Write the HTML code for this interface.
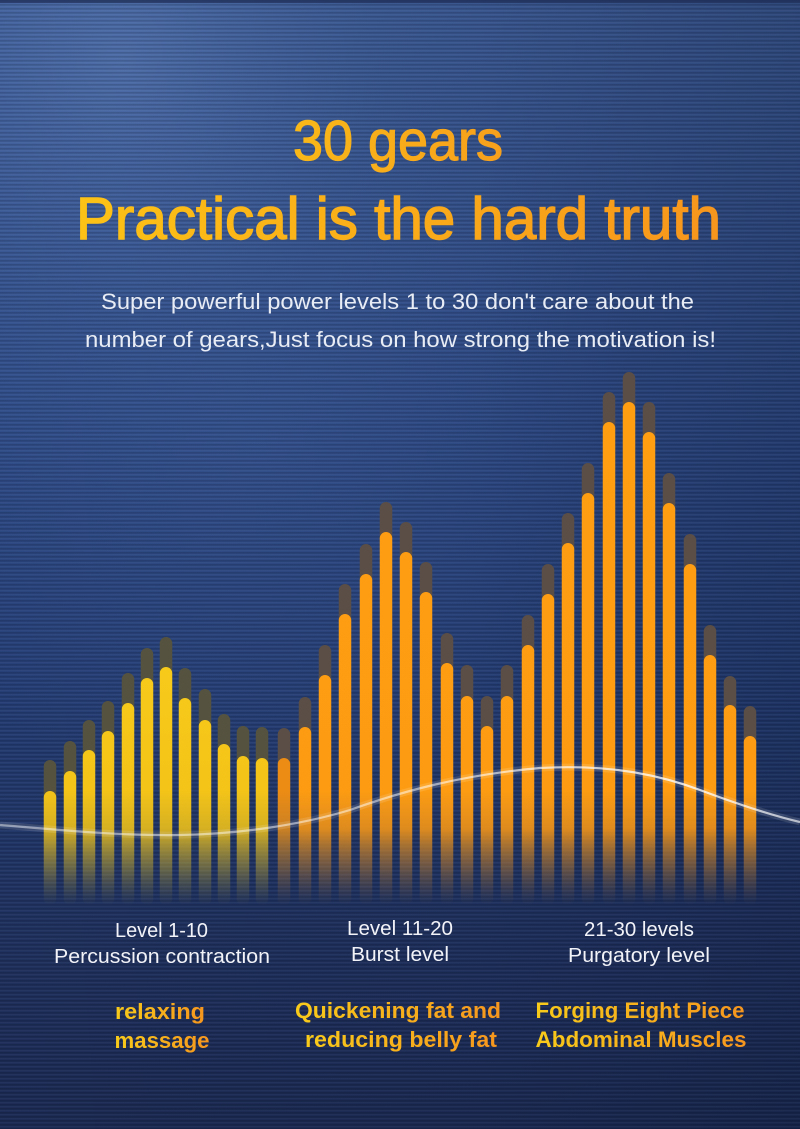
<!DOCTYPE html>
<html>
<head>
<meta charset="utf-8">
<style>
html,body{margin:0;padding:0;background:#1c2c56;}
body{width:800px;height:1129px;overflow:hidden;}
svg{display:block;}
text{font-family:"Liberation Sans",sans-serif;}
</style>
</head>
<body>
<svg width="800" height="1129" viewBox="0 0 800 1129" xmlns="http://www.w3.org/2000/svg">
<defs>
  <linearGradient id="bg" x1="0" y1="0" x2="0" y2="1129" gradientUnits="userSpaceOnUse">
    <stop offset="0" stop-color="#3a5892"/>
    <stop offset="0.38" stop-color="#2c4883"/>
    <stop offset="0.62" stop-color="#243d74"/>
    <stop offset="0.82" stop-color="#1f315f"/>
    <stop offset="1" stop-color="#1b2a53"/>
  </linearGradient>
  <radialGradient id="hl" cx="120" cy="60" r="520" gradientUnits="userSpaceOnUse">
    <stop offset="0" stop-color="#6f92d0" stop-opacity="0.4"/>
    <stop offset="0.5" stop-color="#5577b8" stop-opacity="0.12"/>
    <stop offset="1" stop-color="#4060a0" stop-opacity="0"/>
  </radialGradient>
  <radialGradient id="hl2" cx="260" cy="440" r="380" gradientUnits="userSpaceOnUse">
    <stop offset="0" stop-color="#4a6cb0" stop-opacity="0.25"/>
    <stop offset="1" stop-color="#4a6cb0" stop-opacity="0"/>
  </radialGradient>
  <linearGradient id="dk" x1="0" y1="0" x2="800" y2="0" gradientUnits="userSpaceOnUse">
    <stop offset="0" stop-color="#000" stop-opacity="0"/>
    <stop offset="0.6" stop-color="#06102a" stop-opacity="0.06"/>
    <stop offset="1" stop-color="#06102a" stop-opacity="0.22"/>
  </linearGradient>
  <pattern id="stripes" x="0" y="0" width="8" height="4" patternUnits="userSpaceOnUse">
    <rect x="0" y="0" width="8" height="1.6" fill="#000" fill-opacity="0.13"/>
    <rect x="0" y="2.2" width="8" height="1" fill="#fff" fill-opacity="0.04"/>
  </pattern>
  <linearGradient id="yel" x1="0" y1="360" x2="0" y2="905" gradientUnits="userSpaceOnUse">
    <stop offset="0" stop-color="#fed81e"/>
    <stop offset="0.79" stop-color="#f4c418"/>
    <stop offset="0.86" stop-color="#e6bb1c" stop-opacity="0.92"/>
    <stop offset="0.93" stop-color="#b8a032" stop-opacity="0.5"/>
    <stop offset="1" stop-color="#8a8040" stop-opacity="0"/>
  </linearGradient>
  <linearGradient id="org" x1="0" y1="360" x2="0" y2="905" gradientUnits="userSpaceOnUse">
    <stop offset="0" stop-color="#ff9e10"/>
    <stop offset="0.79" stop-color="#fd9c12"/>
    <stop offset="0.86" stop-color="#ef9318" stop-opacity="0.92"/>
    <stop offset="0.93" stop-color="#b87a30" stop-opacity="0.5"/>
    <stop offset="1" stop-color="#806040" stop-opacity="0"/>
  </linearGradient>
  <linearGradient id="org2" x1="0" y1="360" x2="0" y2="905" gradientUnits="userSpaceOnUse">
    <stop offset="0" stop-color="#f08c12"/>
    <stop offset="0.79" stop-color="#ec8c14"/>
    <stop offset="0.86" stop-color="#df8a1c" stop-opacity="0.9"/>
    <stop offset="0.93" stop-color="#b07830" stop-opacity="0.5"/>
    <stop offset="1" stop-color="#806040" stop-opacity="0"/>
  </linearGradient>
  <linearGradient id="wave" x1="0" y1="0" x2="800" y2="0" gradientUnits="userSpaceOnUse">
    <stop offset="0" stop-color="#fff" stop-opacity="0.45"/>
    <stop offset="0.5" stop-color="#fff" stop-opacity="0.5"/>
    <stop offset="0.85" stop-color="#fff" stop-opacity="0.8"/>
    <stop offset="1" stop-color="#fff" stop-opacity="0.65"/>
  </linearGradient>
  <linearGradient id="tg1" x1="0" y1="0" x2="1" y2="0">
    <stop offset="0" stop-color="#f9b818"/>
    <stop offset="1" stop-color="#f7a01c"/>
  </linearGradient>
  <linearGradient id="tg2" x1="0" y1="0" x2="1" y2="0">
    <stop offset="0" stop-color="#fcc216"/>
    <stop offset="1" stop-color="#f7961c"/>
  </linearGradient>
  <linearGradient id="tg3" x1="0" y1="0" x2="1" y2="0">
    <stop offset="0" stop-color="#f8cb1a"/>
    <stop offset="1" stop-color="#f6961e"/>
  </linearGradient>
</defs>

<!-- background -->
<rect x="0" y="0" width="800" height="1129" fill="url(#bg)"/>
<rect x="0" y="0" width="800" height="1129" fill="url(#hl)"/>
<rect x="0" y="0" width="800" height="1129" fill="url(#hl2)"/>
<rect x="0" y="0" width="800" height="1129" fill="url(#dk)"/>
<rect x="0" y="0" width="800" height="1129" fill="url(#stripes)"/>
<rect x="0" y="0" width="800" height="3" fill="#1e2c55" fill-opacity="0.7"/>

<!-- caps yellow -->
<g fill="#55533f">
  <rect x="43.75" y="760" width="12.5" height="43" rx="6.25"/>
  <rect x="63.75" y="741" width="12.5" height="42" rx="6.25"/>
  <rect x="82.75" y="720" width="12.5" height="42" rx="6.25"/>
  <rect x="101.75" y="701" width="12.5" height="42" rx="6.25"/>
  <rect x="121.75" y="673" width="12.5" height="42" rx="6.25"/>
  <rect x="140.75" y="648" width="12.5" height="42" rx="6.25"/>
  <rect x="159.75" y="637" width="12.5" height="42" rx="6.25"/>
  <rect x="178.75" y="668" width="12.5" height="42" rx="6.25"/>
  <rect x="198.75" y="689" width="12.5" height="43" rx="6.25"/>
  <rect x="217.75" y="714" width="12.5" height="42" rx="6.25"/>
  <rect x="236.75" y="726" width="12.5" height="42" rx="6.25"/>
  <rect x="255.75" y="727" width="12.5" height="43" rx="6.25"/>
</g>
<!-- caps orange -->
<g fill="#5a4e46">
  <rect x="277.75" y="728" width="12.5" height="42" rx="6.25"/>
  <rect x="298.75" y="697" width="12.5" height="42" rx="6.25"/>
  <rect x="318.75" y="645" width="12.5" height="42" rx="6.25"/>
  <rect x="338.75" y="584" width="12.5" height="42" rx="6.25"/>
  <rect x="359.75" y="544" width="12.5" height="42" rx="6.25"/>
  <rect x="379.75" y="502" width="12.5" height="42" rx="6.25"/>
  <rect x="399.75" y="522" width="12.5" height="42" rx="6.25"/>
  <rect x="419.75" y="562" width="12.5" height="42" rx="6.25"/>
  <rect x="440.75" y="633" width="12.5" height="42" rx="6.25"/>
  <rect x="460.75" y="665" width="12.5" height="43" rx="6.25"/>
  <rect x="480.75" y="696" width="12.5" height="42" rx="6.25"/>
  <rect x="500.75" y="665" width="12.5" height="43" rx="6.25"/>
  <rect x="521.75" y="615" width="12.5" height="42" rx="6.25"/>
  <rect x="541.75" y="564" width="12.5" height="42" rx="6.25"/>
  <rect x="561.75" y="513" width="12.5" height="42" rx="6.25"/>
  <rect x="581.75" y="463" width="12.5" height="42" rx="6.25"/>
  <rect x="602.75" y="392" width="12.5" height="42" rx="6.25"/>
  <rect x="622.75" y="372" width="12.5" height="42" rx="6.25"/>
  <rect x="642.75" y="402" width="12.5" height="42" rx="6.25"/>
  <rect x="662.75" y="473" width="12.5" height="42" rx="6.25"/>
  <rect x="683.75" y="534" width="12.5" height="42" rx="6.25"/>
  <rect x="703.75" y="625" width="12.5" height="42" rx="6.25"/>
  <rect x="723.75" y="676" width="12.5" height="41" rx="6.25"/>
  <rect x="743.75" y="706" width="12.5" height="42" rx="6.25"/>
</g>

<!-- bright yellow bars -->
<g fill="url(#yel)">
  <rect x="43.75" y="791" width="12.5" height="114" rx="6.25"/>
  <rect x="63.75" y="771" width="12.5" height="134" rx="6.25"/>
  <rect x="82.75" y="750" width="12.5" height="155" rx="6.25"/>
  <rect x="101.75" y="731" width="12.5" height="174" rx="6.25"/>
  <rect x="121.75" y="703" width="12.5" height="202" rx="6.25"/>
  <rect x="140.75" y="678" width="12.5" height="227" rx="6.25"/>
  <rect x="159.75" y="667" width="12.5" height="238" rx="6.25"/>
  <rect x="178.75" y="698" width="12.5" height="207" rx="6.25"/>
  <rect x="198.75" y="720" width="12.5" height="185" rx="6.25"/>
  <rect x="217.75" y="744" width="12.5" height="161" rx="6.25"/>
  <rect x="236.75" y="756" width="12.5" height="149" rx="6.25"/>
  <rect x="255.75" y="758" width="12.5" height="147" rx="6.25"/>
</g>
<!-- bright orange bars -->
<rect x="277.75" y="758" width="12.5" height="147" rx="6.25" fill="url(#org2)"/>
<g fill="url(#org)">
  <rect x="298.75" y="727" width="12.5" height="178" rx="6.25"/>
  <rect x="318.75" y="675" width="12.5" height="230" rx="6.25"/>
  <rect x="338.75" y="614" width="12.5" height="291" rx="6.25"/>
  <rect x="359.75" y="574" width="12.5" height="331" rx="6.25"/>
  <rect x="379.75" y="532" width="12.5" height="373" rx="6.25"/>
  <rect x="399.75" y="552" width="12.5" height="353" rx="6.25"/>
  <rect x="419.75" y="592" width="12.5" height="313" rx="6.25"/>
  <rect x="440.75" y="663" width="12.5" height="242" rx="6.25"/>
  <rect x="460.75" y="696" width="12.5" height="209" rx="6.25"/>
  <rect x="480.75" y="726" width="12.5" height="179" rx="6.25"/>
  <rect x="500.75" y="696" width="12.5" height="209" rx="6.25"/>
  <rect x="521.75" y="645" width="12.5" height="260" rx="6.25"/>
  <rect x="541.75" y="594" width="12.5" height="311" rx="6.25"/>
  <rect x="561.75" y="543" width="12.5" height="362" rx="6.25"/>
  <rect x="581.75" y="493" width="12.5" height="412" rx="6.25"/>
  <rect x="602.75" y="422" width="12.5" height="483" rx="6.25"/>
  <rect x="622.75" y="402" width="12.5" height="503" rx="6.25"/>
  <rect x="642.75" y="432" width="12.5" height="473" rx="6.25"/>
  <rect x="662.75" y="503" width="12.5" height="402" rx="6.25"/>
  <rect x="683.75" y="564" width="12.5" height="341" rx="6.25"/>
  <rect x="703.75" y="655" width="12.5" height="250" rx="6.25"/>
  <rect x="723.75" y="705" width="12.5" height="200" rx="6.25"/>
  <rect x="743.75" y="736" width="12.5" height="169" rx="6.25"/>
</g>

<!-- wave line -->
<path d="M0,825 C60,830 120,836 180,835 C240,834 300,825 350,810 C400,792 460,775 540,768 C610,764 660,775 700,790 C740,805 770,815 800,822" fill="none" stroke="#fff" stroke-opacity="0.12" stroke-width="7"/>
<path d="M0,825 C60,830 120,836 180,835 C240,834 300,825 350,810 C400,792 460,775 540,768 C610,764 660,775 700,790 C740,805 770,815 800,822" fill="none" stroke="url(#wave)" stroke-width="2.2"/>

<!-- headline -->
<text x="398" y="160" text-anchor="middle" font-size="57" fill="url(#tg1)" stroke="url(#tg1)" stroke-width="1.2" textLength="210" lengthAdjust="spacingAndGlyphs">30 gears</text>
<text x="398.5" y="239" text-anchor="middle" font-size="59" fill="url(#tg2)" stroke="url(#tg2)" stroke-width="1.4" textLength="645" lengthAdjust="spacingAndGlyphs">Practical is the hard truth</text>

<!-- subtitle -->
<g fill="#e8ecf4" font-size="22">
  <text x="397.5" y="309" text-anchor="middle" textLength="593" lengthAdjust="spacingAndGlyphs">Super powerful power levels 1 to 30 don't care about the</text>
  <text x="400.5" y="347" text-anchor="middle" textLength="631" lengthAdjust="spacingAndGlyphs">number of gears,Just focus on how strong the motivation is!</text>
</g>

<!-- labels -->
<g fill="#f2f3f8" font-size="20">
  <text x="161.5" y="937" text-anchor="middle" textLength="93" lengthAdjust="spacingAndGlyphs">Level 1-10</text>
  <text x="162" y="963" text-anchor="middle" textLength="216" lengthAdjust="spacingAndGlyphs">Percussion contraction</text>
  <text x="400" y="935" text-anchor="middle" textLength="106" lengthAdjust="spacingAndGlyphs">Level 11-20</text>
  <text x="400" y="961" text-anchor="middle" textLength="98" lengthAdjust="spacingAndGlyphs">Burst level</text>
  <text x="639" y="936" text-anchor="middle" textLength="110" lengthAdjust="spacingAndGlyphs">21-30 levels</text>
  <text x="639" y="962" text-anchor="middle" textLength="142" lengthAdjust="spacingAndGlyphs">Purgatory level</text>
</g>

<!-- bold gradient labels -->
<g font-size="22" font-weight="bold">
  <text x="160" y="1019" text-anchor="middle" fill="url(#tg3)" textLength="90" lengthAdjust="spacingAndGlyphs">relaxing</text>
  <text x="162" y="1048" text-anchor="middle" fill="url(#tg3)" textLength="95" lengthAdjust="spacingAndGlyphs">massage</text>
  <text x="398" y="1018" text-anchor="middle" fill="url(#tg3)" textLength="206" lengthAdjust="spacingAndGlyphs">Quickening fat and</text>
  <text x="401" y="1047" text-anchor="middle" fill="url(#tg3)" textLength="192" lengthAdjust="spacingAndGlyphs">reducing belly fat</text>
  <text x="640" y="1018" text-anchor="middle" fill="url(#tg3)" textLength="209" lengthAdjust="spacingAndGlyphs">Forging Eight Piece</text>
  <text x="641" y="1047" text-anchor="middle" fill="url(#tg3)" textLength="211" lengthAdjust="spacingAndGlyphs">Abdominal Muscles</text>
</g>
</svg>
</body>
</html>
